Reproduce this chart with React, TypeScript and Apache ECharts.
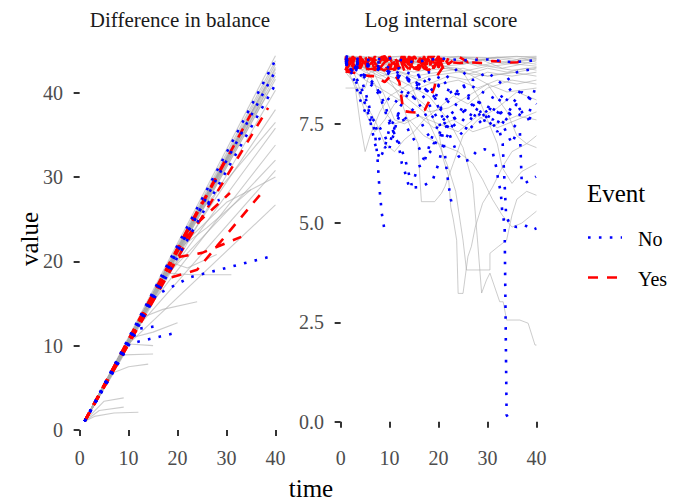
import React, { useEffect, useRef } from "react";
import * as echarts from "echarts";

const FONT = "'Liberation Serif', 'Times New Roman', serif";

const facetTitles = ["Difference in balance", "Log internal score"];
const xTicks = [0, 10, 20, 30, 40];
const leftYTicks = [0, 10, 20, 30, 40];
const rightYTicks = [0, 2.5, 5, 7.5];
const legendTitle = "Event";
const legendLabels = ["No", "Yes"];
const axisTitles = { x: "time", y: "value" };

// ---- Left facet: Difference in balance ----
const leftGray: number[][][] = [
  [[1, 1], [40, 43.8]],
  [[1, 1], [40, 43.0]],
  [[1, 1], [40, 42.4]],
  [[1, 1], [40, 41.6]],
  [[1, 1], [39, 40.5]],
  [[1, 1], [38, 40.0]],
  [[1, 1], [40, 40.3]],
  [[1, 1], [37, 38.8]],
  [[1, 1], [35, 37.2]],
  [[1, 1], [33, 35.0]],
  [[1, 1], [30, 32.0]],
  [[1, 1], [28, 29.8]],
  [[1, 1], [25, 26.8]],
  [[1, 1], [22, 23.5]],
  [[1, 1], [20, 21.2]],
  [[1, 1], [18, 19.3]],
  [[1, 1], [15, 16.0]],
  [[1, 1], [40, 44.4]],
  [[1, 1], [40, 43.4]],
  [[1, 1], [40, 42.8]],
  [[1, 1], [40, 42.0]],
  [[1, 1], [39, 41.6]],
  [[1, 1], [38, 40.8]],
  [[1, 1], [36, 38.6]],
  [[1, 1], [34, 36.6]],
  [[1, 1], [32, 34.4]],
  [[1, 1], [31, 33.3]],
  [[1, 1], [29, 31.2]],
  [[1, 1], [27, 29.0]],
  [[1, 1], [26, 27.7]],
  [[1, 1], [24, 25.6]],
  [[1, 1], [23, 24.8]],
  [[1, 1], [21, 22.4]],
  [[1, 1], [19, 20.4]],
  [[1, 1], [17, 18.2]],
  [[1, 1], [13, 13.9]],
  [[1, 1], [20, 20.8], [40, 38.0]],
  [[1, 1], [16, 16.8], [40, 35.8]],
  [[1, 1], [14, 14.5], [40, 33.8]],
  [[1, 1], [18, 18.5], [40, 32.0]],
  [[1, 1], [12, 12.3], [40, 30.8]],
  [[1, 1], [10, 10.2], [40, 26.7]],
  [[1, 1], [22, 22.5], [30, 27.0], [40, 30.0]],
  [[1, 1], [3, 1.6], [7, 2.0], [12, 2.1]],
  [[1, 1], [4, 2.3], [9, 2.7]],
  [[1, 1], [5, 3.4], [9, 3.8]],
  [[1, 1], [7, 6.8], [10, 7.5], [14, 7.8]],
  [[1, 1], [9, 8.9], [15, 9.0]],
  [[1, 1], [11, 11.0], [15, 11.6], [20, 12.7]],
  [[1, 1], [13, 13.4], [17, 14.3], [24, 15.2]],
  [[1, 1], [18, 18.6], [23, 18.4], [31, 18.4]],
  [[1, 1], [10, 10.2], [15, 10.0]],
  [[1, 1], [19, 19.8], [22, 19.2], [28, 20.8]],
  [[1, 1], [20, 21.4], [26, 24.0], [35, 28.5]],
  [[1, 1], [24, 25.5], [40, 36.5]],
];

const leftRed: number[][][] = [
  [[1, 1], [21.5, 21.9], [38.5, 38.2]],
  [[1, 1], [30, 32.3]],
  [[1, 1], [25, 27.0]],
  [[1, 1], [20, 21.3], [24, 24.5], [30.7, 28.1]],
  [[1, 1], [17, 17.8], [24, 19.0], [37, 28.0]],
  [[1, 1], [20, 20.5], [25, 21.0], [33, 22.9]],
  [[1, 1], [15, 16.0], [35, 37.5]],
  [[1, 1], [22, 23.3]],
];

const leftBlue: number[][][] = [
  [[1, 1], [40, 43.9]],
  [[1, 1], [40, 42.6]],
  [[1, 1], [40, 41.0]],
  [[1, 1], [25, 26.5], [28.6, 27.3]],
  [[1, 1], [15, 15.8], [22.5, 18.1], [38.5, 20.5]],
  [[1, 1], [10, 10.2], [13, 10.6], [19.5, 11.5]],
  [[1, 1], [12, 12.0], [15.7, 12.3]],
];

// ---- Right facet: Log internal score ----
const rightGray: number[][][] = [
  [[1, 9.2], [10, 9.18], [20, 9.2], [30, 9.17], [40, 9.2]],
  [[1, 9.1], [5, 9.15], [10, 9.05], [15, 9.12], [20, 9.08], [25, 9.15], [30, 9.1], [35, 9.05], [40, 9.12]],
  [[1, 9.0], [4, 9.1], [8, 8.95], [12, 9.05], [16, 8.9], [20, 9.0], [24, 9.1], [28, 8.95], [32, 9.05], [36, 9.0], [40, 8.95]],
  [[1, 8.95], [6, 8.9], [10, 8.8], [14, 8.95], [18, 8.85], [22, 8.9], [26, 8.75], [30, 8.9], [34, 8.8], [38, 8.9], [40, 8.85]],
  [[1, 8.4], [5, 8.4], [6, 8.8], [10, 8.9], [15, 8.7], [20, 8.8], [25, 8.9], [30, 8.7], [35, 8.8], [40, 8.7]],
  [[1, 9.15], [8, 9.1], [14, 8.6], [16, 8.0], [18, 7.8], [22, 7.9], [26, 8.2], [30, 8.5], [34, 8.3], [40, 8.4]],
  [[1, 9.1], [6, 9.0], [9, 8.2], [11, 7.6], [13, 7.5], [16, 7.7], [19, 7.4], [23, 7.6], [27, 7.3], [32, 7.5], [36, 7.7], [40, 7.6]],
  [[1, 9.1], [5, 9.0], [9, 8.8], [12, 8.2], [14, 7.5], [15.8, 7.0], [16.2, 6.1], [16.5, 5.54], [19.2, 5.54], [20.6, 5.75], [21.3, 5.92], [23, 6.5], [25, 7.2], [28, 7.6], [32, 7.9], [36, 8.3], [40, 8.1]],
  [[1, 9.0], [6, 8.9], [10, 8.6], [14, 8.3], [18, 7.9], [20, 7.3], [21, 6.6], [22, 6.2], [22.5, 5.4], [23, 5.1], [23.7, 4.57], [24, 3.23], [25, 3.23], [26, 4.16], [26.7, 4.41], [27.5, 4.9], [29, 5.5], [31, 5.9], [33, 6.4], [35, 6.8], [38, 7.0], [40, 6.9]],
  [[1, 9.1], [5, 8.8], [9, 8.6], [13, 8.2], [17, 7.8], [20, 7.0], [22, 6.4], [23.5, 5.8], [25, 4.57], [25.7, 3.82], [30.5, 3.82], [30.5, 4.24], [32.2, 4.41], [33.9, 4.57], [35, 5.2], [36, 5.6], [38, 5.8], [40, 5.7]],
  [[1, 9.05], [6, 8.9], [12, 8.6], [18, 8.2], [22, 7.6], [25, 6.9], [27, 6.0], [28, 4.5], [28.8, 3.24], [29.8, 3.57], [30.5, 3.74], [32.5, 3.02], [33.2, 3.02], [33.9, 2.56], [36.6, 2.56], [38.3, 2.48], [39.7, 1.93], [40, 1.93]],
  [[1, 9.2], [4, 9.1], [7, 8.5], [9, 7.8], [11, 7.5], [14, 7.6], [17, 7.2], [20, 7.0], [24, 6.8], [27, 6.5], [29, 6.1], [31, 5.6], [33, 5.2], [35, 4.9], [37, 5.0], [40, 5.3]],
  [[1, 9.1], [3, 8.7], [5, 8.0], [7, 7.6], [9, 7.0], [11, 6.8], [13, 7.1], [15, 7.3], [17, 7.6], [20, 7.9], [23, 8.2], [26, 8.0], [30, 8.4], [35, 8.6], [40, 8.5]],
  [[1, 8.8], [3, 8.5], [5, 7.8], [7, 7.3], [9, 7.6], [11, 8.0], [14, 8.3], [18, 8.5], [22, 8.7], [26, 8.6], [30, 8.8], [35, 8.7], [40, 8.8]],
  [[1, 9.15], [10, 9.1], [20, 9.0], [25, 8.8], [28, 8.2], [30, 7.6], [32, 7.0], [33, 6.4], [35, 6.0], [37, 6.3], [40, 6.5]],
  [[1, 9.1], [8, 9.05], [16, 9.0], [24, 8.9], [30, 8.5], [34, 7.8], [36, 7.2], [38, 7.0], [40, 7.2]],
  [[1, 9.0], [5, 8.6], [8, 8.4], [12, 8.1], [16, 7.7], [20, 7.5], [24, 7.3], [28, 7.7], [32, 7.4], [36, 7.6], [40, 7.8]],
  [[1, 9.2], [6, 9.15], [12, 9.2], [18, 9.1], [24, 9.18], [30, 9.15], [36, 9.2], [40, 9.15]],
  [[1, 9.1], [7, 9.0], [13, 9.1], [19, 9.0], [25, 9.05], [31, 8.95], [37, 9.05], [40, 9.0]],
  [[1, 8.9], [4, 8.95], [8, 8.7], [12, 8.8], [16, 8.6], [20, 8.5], [24, 8.6], [28, 8.4], [32, 8.6], [36, 8.5], [40, 8.6]],
  [[1, 9.15], [5, 9.05], [9, 9.15], [13, 8.95], [17, 9.1], [21, 8.95], [25, 9.0], [29, 9.1], [33, 8.9], [37, 9.0], [40, 9.1]],
  [[1, 9.0], [3, 8.4], [4, 7.5], [5, 6.8], [6, 7.2], [8, 7.8], [10, 8.2], [14, 8.5], [18, 8.7], [24, 8.8], [30, 8.7], [36, 8.8], [40, 8.9]],
  [[1, 9.18], [4, 9.12], [8, 9.2], [12, 9.1], [16, 9.18], [20, 9.12], [24, 9.2], [28, 9.1], [32, 9.18], [36, 9.12], [40, 9.18]],
  [[1, 9.05], [5, 9.12], [9, 9.0], [13, 9.15], [17, 9.05], [21, 9.12], [25, 9.0], [29, 9.12], [33, 9.02], [37, 9.15], [40, 9.05]],
  [[1, 9.12], [6, 9.02], [11, 9.12], [16, 9.05], [21, 9.15], [26, 9.05], [31, 9.15], [36, 9.08], [40, 9.15]],
  [[1, 8.98], [5, 8.85], [10, 8.95], [15, 8.8], [20, 8.92], [25, 8.82], [30, 8.95], [35, 8.85], [40, 8.92]],
];

const rightRed: number[][][] = [
  [[1, 8.82], [2, 8.8], [3, 8.78], [4, 8.76], [5, 8.72], [6, 8.7], [7, 8.7], [8, 8.62], [9, 8.55], [10, 8.68], [11, 8.75], [12, 8.55], [12.8, 7.82], [14, 7.8], [15.8, 7.78], [17.2, 7.85], [18, 8.05], [19.2, 8.44], [19.6, 8.69], [21, 8.95], [22, 9.05]],
  [[1, 9.1], [3, 9.15], [5, 9.05], [7, 9.18], [9, 9.1], [11, 9.15], [13, 9.05], [15, 9.12], [17, 9.0], [19, 9.1], [20.3, 9.11], [22, 9.05], [24.3, 9.03], [26, 9.05], [29, 9.03], [31, 9.08], [32.5, 9.07], [34, 9.04], [36.2, 9.05], [37, 9.11]],
  [[1, 8.85], [2, 9.2], [3, 8.88], [4, 9.2], [5, 8.9], [6, 9.2], [7, 8.84], [8, 9.15], [9, 9.2], [10, 8.86], [11, 9.2], [12, 8.9], [13, 9.2], [14, 8.85], [15, 9.15], [16, 9.2], [17, 8.85], [18, 9.2], [19, 8.9], [20, 9.2], [21, 8.88], [22, 9.15]],
  [[1, 9.2], [2, 8.84], [3, 9.2], [4, 8.9], [5, 9.2], [6, 8.86], [7, 9.2], [8, 8.9], [9, 8.84], [10, 9.2], [11, 8.86], [12, 9.2], [13, 8.84], [14, 9.2], [15, 8.9], [16, 8.86], [17, 9.2], [18, 8.88], [19, 9.2], [20, 8.92], [21, 9.2], [22, 9.0], [24, 9.2], [26, 9.05], [28, 9.15]],
  [[1, 8.85], [3, 9.2], [5, 8.85], [6, 9.2], [8, 8.86], [9, 9.2], [11, 8.85], [12, 9.15], [14, 8.86], [15, 9.2], [17, 8.9], [18, 8.85], [20, 9.2], [21, 8.88]],
  [[1, 9.15], [1.5, 8.86], [2.5, 9.2], [3.5, 8.9], [4.5, 9.2], [5.5, 8.86], [6.5, 9.15], [7.5, 8.9], [8.5, 9.2], [9.5, 8.86], [10.5, 9.15], [11.5, 8.88], [12.5, 9.2], [13.5, 8.9], [14.5, 9.18], [15.5, 8.86], [16.5, 9.15], [17.5, 8.9], [18.5, 9.2], [19.5, 8.88], [20.5, 9.15], [21.5, 8.95]],
  [[1, 9.05], [2, 9.15], [3, 9.0], [4, 8.9], [5, 9.15], [6, 9.0], [7, 9.12], [8, 8.9], [9, 9.05], [10, 9.15], [11, 9.0], [12, 8.9], [13, 9.1], [14, 9.0], [15, 8.9], [16, 9.1], [17, 9.15], [18, 9.0], [19, 8.9], [20, 9.1], [21, 9.0]],
  [[1, 8.86], [2.5, 8.86], [3, 9.12], [4.5, 9.12], [5, 8.88], [7, 8.88], [7.5, 9.15], [9, 9.15], [9.5, 8.88], [11, 8.88], [11.5, 9.12], [13.5, 9.12], [14, 8.9], [16, 8.9], [16.5, 9.12], [18, 9.12], [18.5, 8.92], [20, 8.92], [20.5, 9.1]],
];

const rightBlue: number[][][] = [
  [[1, 9.1], [2, 9.05], [3, 8.95], [4, 8.85], [4.3, 8.6], [5.3, 8.19], [6, 7.85], [7, 7.27], [7.5, 6.68], [7.9, 5.92], [8.4, 5.25], [8.9, 4.87]],
  [[1, 9.15], [3, 9.1], [5, 9.0], [8, 9.05], [10, 8.9], [13, 8.7], [16, 8.5], [19, 8.2], [21, 7.6], [23, 7.0], [24, 6.7], [25, 6.55], [26.4, 6.6], [27.7, 6.8], [29.4, 6.86], [31.1, 6.76], [31.8, 6.4], [32.3, 6.0], [32.7, 5.8], [33, 5.3], [33.5, 4.95], [33.9, 0.17], [34.7, 0.0]],
  [[1, 9.0], [4, 8.9], [7, 9.0], [10, 8.8], [14, 8.6], [18, 8.3], [22, 8.1], [26, 7.8], [29, 7.6], [31, 7.5], [32.5, 7.3], [33.1, 7.0], [33.8, 5.2], [34.6, 4.95], [36, 4.9], [37.6, 4.95], [39.2, 4.83], [40, 4.87]],
  [[1, 9.1], [5, 9.0], [9, 8.8], [13, 8.6], [17, 8.7], [21, 8.4], [25, 8.2], [29, 8.0], [32, 7.8], [34, 7.6], [36, 7.4], [36.6, 7.35], [37, 6.0], [37.6, 6.0], [39.9, 6.17]],
  [[1, 9.05], [4, 9.0], [8, 8.9], [12, 8.7], [15, 8.5], [18, 8.0], [20, 7.6], [21, 7.1], [21.5, 6.5], [22, 6.0], [22.5, 5.6], [22.8, 5.45]],
  [[1, 9.1], [3, 8.9], [5, 8.7], [7, 8.5], [9, 8.0], [10, 7.6], [11, 7.2], [11.8, 7.0], [12.5, 6.5], [13.1, 6.3], [14, 5.9], [15, 5.9], [16.5, 5.91], [18.8, 6.08], [20, 6.5], [21, 7.0], [23, 7.5]],
  [[1, 9.0], [3, 8.95], [6, 8.6], [8, 8.2], [10, 7.5], [12, 7.0], [13.2, 6.6], [14.5, 5.96], [15.2, 6.19], [15.8, 6.42], [16.9, 6.47], [18, 6.9], [19, 7.3], [21, 7.6], [24, 7.9], [27, 7.7], [30, 7.9], [34, 7.7], [37, 7.9], [40, 7.8]],
  [[1, 9.1], [3, 8.7], [5, 8.2], [6, 7.7], [8, 7.4], [9, 7.2], [10, 6.9], [11, 7.3], [12, 7.9], [14, 8.3], [16, 8.0], [18, 7.6], [20, 7.8], [23, 8.2], [26, 8.5], [29, 8.3], [32, 8.1], [35, 8.4], [38, 8.2], [40, 8.0]],
  [[1, 9.15], [2, 8.9], [3, 8.5], [4, 8.1], [5, 7.8], [6, 7.6], [7, 7.5], [8, 7.1], [9, 6.9], [10, 7.0], [11, 7.4], [12, 7.7], [13, 7.6], [15, 7.9], [17, 7.4], [19, 7.0], [21, 7.3], [23, 7.6], [26, 7.9], [28, 8.1], [31, 7.6], [34, 7.9], [37, 7.7], [40, 7.6]],
  [[1, 9.0], [4, 8.8], [6, 8.5], [9, 8.2], [11, 8.0], [13, 8.4], [15, 8.1], [17, 8.6], [19, 8.3], [21, 8.6], [23, 8.2], [25, 8.5], [27, 8.0], [29, 7.6], [31, 7.8], [33, 8.2], [35, 8.0], [37, 8.3], [39, 8.1], [40, 8.5]],
  [[1, 9.1], [3, 9.0], [6, 8.95], [9, 8.8], [12, 8.9], [15, 8.7], [18, 8.8], [21, 8.6], [24, 8.9], [27, 8.6], [30, 8.8], [33, 8.5], [36, 8.8], [40, 8.9]],
  [[1, 9.2], [5, 9.1], [10, 9.15], [15, 9.05], [20, 9.15], [25, 9.1], [30, 9.12], [35, 9.05], [40, 9.1]],
  [[1, 9.05], [3, 8.6], [5, 8.0], [6, 7.6], [7, 7.0], [8, 6.6], [9, 6.9], [10, 7.4], [12, 7.8], [14, 7.3], [16, 6.9], [17, 6.6], [19, 6.9], [21, 7.5], [24, 7.7], [27, 7.4], [30, 7.7], [33, 7.5], [35, 7.0], [36, 7.3]],
  [[1, 9.1], [4, 9.0], [8, 8.9], [12, 8.7], [16, 8.5], [19, 8.2], [21, 7.8], [23, 7.5], [25, 7.2], [26, 7.5], [28, 7.9], [30, 7.6], [32, 7.3], [34, 7.7], [36, 8.0], [38, 7.6], [40, 7.7]],
];

const GRAY = "rgba(170,170,170,0.6)";
const BLUE = "#0000ff";
const RED = "#ff0000";
const DOT: number[] = [2.6, 8.3];
const DASH: number[] = [10, 9];

function mkSeries(lines: number[][][], panel: number, color: string, width: number, type: any, name: string) {
  return lines.map((d) => ({
    type: "line",
    name,
    xAxisIndex: panel,
    yAxisIndex: panel,
    data: d,
    showSymbol: false,
    symbol: "none",
    silent: true,
    lineStyle: { color, width, type, cap: "butt" },
  }));
}

export default function App() {
  const ref = useRef<HTMLDivElement>(null);
  useEffect(() => {
    if (!ref.current) return;
    const chart = echarts.init(ref.current, undefined, { renderer: "svg" });
    const tickStyle = { color: "#333333", width: 2 };
    const xAxisBase = (gridIndex: number) => ({
      type: "value",
      gridIndex,
      min: -0.95,
      max: 41.95,
      axisLine: { show: false },
      splitLine: { show: false },
      axisTick: { show: true, length: 6, customValues: xTicks, lineStyle: tickStyle },
      axisLabel: { customValues: xTicks, color: "#4d4d4d", fontSize: 20, fontFamily: FONT, margin: 8 },
    });
    const option: any = {
      animation: false,
      backgroundColor: "#ffffff",
      grid: [
        { left: 75, top: 38, width: 210, height: 402 },
        { left: 336, top: 38, width: 210, height: 402 },
      ],
      xAxis: [xAxisBase(0), xAxisBase(1)],
      yAxis: [
        {
          type: "value",
          gridIndex: 0,
          min: -1.2,
          max: 46.5,
          axisLine: { show: false },
          splitLine: { show: false },
          axisTick: { show: true, length: 6, customValues: leftYTicks, lineStyle: tickStyle },
          axisLabel: { customValues: leftYTicks, color: "#4d4d4d", fontSize: 20, fontFamily: FONT, margin: 12 },
        },
        {
          type: "value",
          gridIndex: 1,
          min: -0.46,
          max: 9.66,
          axisLine: { show: false },
          splitLine: { show: false },
          axisTick: { show: true, length: 6, customValues: rightYTicks, lineStyle: tickStyle },
          axisLabel: {
            customValues: rightYTicks,
            color: "#4d4d4d",
            fontSize: 20,
            fontFamily: FONT,
            margin: 12,
            formatter: (v: number) => v.toFixed(1),
          },
        },
      ],
      series: [
        ...mkSeries(leftGray, 0, GRAY, 1.1, "solid", "all"),
        ...mkSeries(rightGray, 1, GRAY, 1, "solid", "all"),
        ...mkSeries(leftRed, 0, RED, 2.6, DASH, legendLabels[1]),
        ...mkSeries(rightRed, 1, RED, 2.6, DASH, legendLabels[1]),
        ...mkSeries(leftBlue, 0, BLUE, 2.6, DOT, legendLabels[0]),
        ...mkSeries(rightBlue, 1, BLUE, 2.6, DOT, legendLabels[0]),
      ],
      graphic: [
        { type: "text", x: 180, y: 20, style: { text: facetTitles[0], fill: "#1a1a1a", font: `21px ${FONT}`, textAlign: "center", textVerticalAlign: "middle" } },
        { type: "text", x: 441, y: 20, style: { text: facetTitles[1], fill: "#1a1a1a", font: `21px ${FONT}`, textAlign: "center", textVerticalAlign: "middle" } },
        { type: "text", x: 29, y: 239, rotation: Math.PI / 2, style: { text: axisTitles.y, fill: "#000000", font: `25px ${FONT}`, textAlign: "center", textVerticalAlign: "middle" } },
        { type: "text", x: 311, y: 488, style: { text: axisTitles.x, fill: "#000000", font: `25px ${FONT}`, textAlign: "center", textVerticalAlign: "middle" } },
        { type: "text", x: 587, y: 193, style: { text: legendTitle, fill: "#000000", font: `25px ${FONT}`, textAlign: "left", textVerticalAlign: "middle" } },
        { type: "line", shape: { x1: 588, y1: 237.5, x2: 622, y2: 237.5 }, style: { stroke: BLUE, lineWidth: 2.6, lineDash: DOT } },
        { type: "text", x: 638, y: 239, style: { text: legendLabels[0], fill: "#000000", font: `20px ${FONT}`, textAlign: "left", textVerticalAlign: "middle" } },
        { type: "line", shape: { x1: 588, y1: 277.5, x2: 621, y2: 277.5 }, style: { stroke: RED, lineWidth: 2.6, lineDash: DASH } },
        { type: "text", x: 638, y: 279, style: { text: legendLabels[1], fill: "#000000", font: `20px ${FONT}`, textAlign: "left", textVerticalAlign: "middle" } },
      ],
    };
    chart.setOption(option);
    return () => chart.dispose();
  }, []);
  return <div ref={ref} style={{ width: 686, height: 501, position: "absolute", left: 0, top: 0 }} />;
}
